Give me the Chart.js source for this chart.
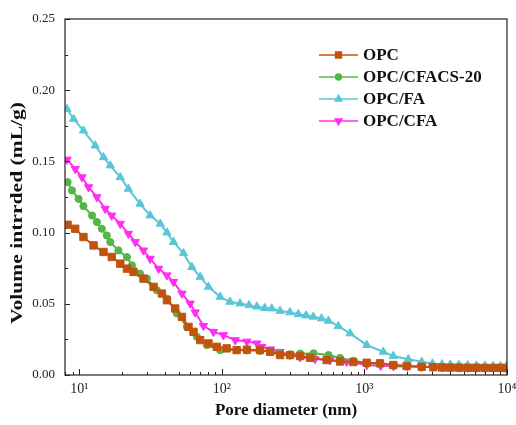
<!doctype html>
<html lang="en">
<head>
<meta charset="utf-8">
<title>Volume intruded vs pore diameter</title>
<script src="https://cdn.jsdelivr.net/npm/chart.js@4"></script>
<style>
  html, body { margin: 0; padding: 0; background: #fff; }
</style>
</head>
<body>
<canvas id="chart1" width="516" height="425"></canvas>
<script>
  // values
  const opcX = [8.28, 9.37, 10.7, 12.6, 14.8, 16.9, 19.4, 21.6, 24.0, 28.2, 33.2, 38.0, 41.2, 47.1, 52.5, 58.4, 63.3, 70.5, 80.6, 92.2, 108, 127, 150, 185, 218, 256, 301, 354, 416, 544, 675, 836, 1038, 1286, 1594, 1978, 2522, 3043, 3500, 4000, 4600, 5300, 6100, 7000, 8000, 9000, 9900]
  const opcY = [0.1055, 0.1027, 0.0969, 0.0910, 0.0864, 0.0829, 0.0782, 0.0747, 0.0724, 0.0677, 0.0619, 0.0572, 0.0525, 0.0467, 0.0408, 0.0338, 0.0303, 0.0245, 0.0222, 0.0198, 0.0187, 0.0175, 0.0178, 0.0175, 0.0163, 0.0140, 0.0140, 0.0133, 0.0121, 0.0105, 0.0095, 0.0091, 0.0086, 0.0082, 0.0070, 0.0063, 0.0058, 0.0055, 0.0053, 0.0052, 0.0052, 0.0051, 0.0051, 0.0050, 0.0050, 0.0050, 0.0049]

  const cfacsX = [8.28, 8.89, 9.89, 10.7, 12.3, 13.3, 14.4, 15.6, 16.5, 18.8, 21.6, 23.4, 26.7, 29.8, 35.0, 41.2, 48.4, 56.9, 66.8, 78.5, 97.3, 127, 150, 185, 220, 256, 300, 354, 440, 560, 675, 836, 1038, 1290, 1600, 2000, 2520, 3050, 3600, 4200, 4900, 5700, 6600, 7600, 8700, 9900]
  const cfacsY = [0.1354, 0.1296, 0.1237, 0.1186, 0.1120, 0.1074, 0.1027, 0.0980, 0.0934, 0.0875, 0.0828, 0.0770, 0.0712, 0.0677, 0.0595, 0.0537, 0.0432, 0.0338, 0.0268, 0.0210, 0.0175, 0.0175, 0.0172, 0.0170, 0.0165, 0.0150, 0.0145, 0.0150, 0.0152, 0.0140, 0.0120, 0.0100, 0.0085, 0.0078, 0.0070, 0.0063, 0.0058, 0.0055, 0.0053, 0.0052, 0.0051, 0.0050, 0.0050, 0.0049, 0.0049, 0.0048]

  const faX = [8.2, 9.12, 10.7, 12.95, 14.8, 16.5, 19.4, 22.1, 26.7, 31.4, 37.0, 41.2, 45.8, 53.8, 61.6, 70.5, 80.6, 97.3, 114, 134, 155, 176, 200, 224, 256, 300, 344, 390, 438, 500, 559, 656, 793, 1038, 1357, 1594, 2032, 2522, 3000, 3500, 4000, 4600, 5300, 6100, 7000, 8000, 9000, 9900]
  const faY = [0.1868, 0.1798, 0.1716, 0.1611, 0.1529, 0.1471, 0.1389, 0.1307, 0.1202, 0.1120, 0.1062, 0.1000, 0.0934, 0.0855, 0.0758, 0.0689, 0.0619, 0.0549, 0.0514, 0.0502, 0.0490, 0.0480, 0.0470, 0.0467, 0.0450, 0.0440, 0.0427, 0.0418, 0.0409, 0.0397, 0.0381, 0.0343, 0.0292, 0.0210, 0.0163, 0.0133, 0.0110, 0.0093, 0.0080, 0.0075, 0.0072, 0.0070, 0.0068, 0.0066, 0.0065, 0.0063, 0.0062, 0.0060]

  const cfaX = [8.2, 9.37, 10.44, 11.62, 13.3, 15.2, 16.9, 19.4, 22.1, 24.7, 28.2, 31.4, 36.0, 41.2, 45.8, 52.5, 60.0, 65.0, 74.3, 87.3, 102.6, 124, 150, 176, 191, 220, 256, 300, 354, 450, 574, 751, 1038, 1300, 1600, 2000, 2500, 3000, 3500, 4000, 4600, 5300, 6100, 7000, 8000, 9000, 9900]
  const cfaY = [0.1513, 0.1447, 0.1389, 0.1319, 0.1249, 0.1167, 0.1120, 0.1062, 0.0992, 0.0934, 0.0875, 0.0817, 0.0747, 0.0700, 0.0654, 0.0572, 0.0502, 0.0440, 0.0345, 0.0303, 0.0280, 0.0245, 0.0235, 0.0222, 0.0198, 0.0180, 0.0163, 0.0140, 0.0125, 0.0112, 0.0105, 0.0093, 0.0070, 0.0065, 0.0062, 0.0060, 0.0058, 0.0056, 0.0055, 0.0054, 0.0053, 0.0052, 0.0051, 0.0050, 0.0050, 0.0049, 0.0048]

  const seriesNames = ['OPC', 'OPC/CFACS-20', 'OPC/FA', 'OPC/CFA']
  const xTickVals = [10, 100, 1000, 10000]
  const xTickLabels = ['10¹', '10²', '10³', '10⁴']
  const yTickVals = [0, 0.05, 0.10, 0.15, 0.20, 0.25]

  const serif = "'Liberation Serif', 'Times New Roman', serif"

  function toPoints(xs, ys) {
    return xs.map((x, i) => ({ x: x, y: ys[i] }))
  }

  function series(label, xs, ys, color, style, radius, rotation) {
    return {
      label: label,
      data: toPoints(xs, ys),
      borderColor: color,
      backgroundColor: color,
      borderWidth: 2,
      pointStyle: style,
      pointRadius: radius,
      pointRotation: rotation || 0,
      pointBorderWidth: 1,
      pointBackgroundColor: color,
      pointBorderColor: color,
      tension: 0
    }
  }

  // frame, inward ticks, legend and rotated y title
  const decorPlugin = {
    id: 'decor',
    afterDraw(chart) {
      const ctx = chart.ctx
      const area = chart.chartArea
      const xs = chart.scales.x
      const ys = chart.scales.y
      ctx.save()
      ctx.strokeStyle = '#222'
      ctx.lineWidth = 1.2
      ctx.strokeRect(area.left, area.top, area.right - area.left, area.bottom - area.top)

      ctx.lineWidth = 1
      ctx.beginPath()
      for (let v = 0; v <= 0.2501; v += 0.025) {
        const py = Math.round(ys.getPixelForValue(v)) + 0.5
        const len = Math.abs(v / 0.05 - Math.round(v / 0.05)) < 1e-6 ? 5 : 3
        ctx.moveTo(area.left, py)
        ctx.lineTo(area.left + len, py)
      }
      for (let d = 1; d <= 10000; d *= 10) {
        for (let k = 1; k <= 9; k++) {
          const v = k * d
          if (v < xs.min || v > xs.max) continue
          const px = Math.round(xs.getPixelForValue(v)) + 0.5
          const len = k === 1 ? 6 : 3
          ctx.moveTo(px, area.bottom)
          ctx.lineTo(px, area.bottom - len)
        }
      }
      ctx.stroke()

      // legend
      const lx0 = 319, lx1 = 358, tx = 363
      chart.data.datasets.forEach((ds, i) => {
        const y = 55 + i * 22
        ctx.strokeStyle = ds.borderColor
        ctx.fillStyle = ds.borderColor
        ctx.lineWidth = 1.5
        ctx.beginPath()
        ctx.moveTo(lx0, y)
        ctx.lineTo(lx1, y)
        ctx.stroke()
        Chart.helpers.drawPoint(ctx, {
          pointStyle: ds.pointStyle,
          radius: ds.pointRadius * 0.8,
          rotation: ds.pointRotation,
          borderWidth: 1
        }, (lx0 + lx1) / 2, y)
        ctx.fillStyle = '#111'
        ctx.font = 'bold 17px ' + serif
        ctx.textAlign = 'left'
        ctx.textBaseline = 'middle'
        ctx.fillText(ds.label, tx, y + 1)
      })

      // y title
      const title = 'Volume intrrded (mL/g)'
      ctx.translate(18, 213)
      ctx.rotate(-Math.PI / 2)
      ctx.font = 'bold 16px ' + serif
      const w = ctx.measureText(title).width
      ctx.scale(222 / w, 1)
      ctx.fillStyle = '#111'
      ctx.textAlign = 'center'
      ctx.textBaseline = 'middle'
      ctx.fillText(title, 0, 0)
      ctx.restore()
    }
  }

  new Chart(document.getElementById('chart1'), {
    type: 'line',
    data: {
      datasets: [
        series(seriesNames[0], opcX, opcY, '#C0530E', 'rect', 5.2),
        series(seriesNames[1], cfacsX, cfacsY, '#52B748', 'circle', 3.6),
        series(seriesNames[2], faX, faY, '#5BC6D6', 'triangle', 4.8),
        series(seriesNames[3], cfaX, cfaY, '#FF2EF0', 'triangle', 4.8, 180)
      ]
    },
    options: {
      responsive: false,
      animation: false,
      events: [],
      layout: { padding: { top: 19, right: 9, left: 0, bottom: 0 } },
      scales: {
        x: {
          type: 'logarithmic',
          min: Math.pow(10, 0.9),
          max: 10000,
          grid: { display: false, drawTicks: false, tickLength: 0 },
          border: { display: false },
          afterBuildTicks: scale => {
            scale.ticks = xTickVals.map(v => ({ value: v }))
          },
          afterFit: scale => {
            scale.height = 50
            scale.paddingLeft = 0
            scale.paddingRight = 0
          },
          ticks: {
            autoSkip: false,
            maxRotation: 0,
            padding: 6,
            color: '#222',
            font: { family: serif, size: 14 },
            callback: (value, index) => xTickLabels[index]
          },
          title: {
            display: true,
            text: 'Pore diameter (nm)',
            color: '#111',
            font: { family: serif, size: 17, weight: 'bold' },
            padding: { top: 0, bottom: 4 }
          }
        },
        y: {
          min: 0,
          max: 0.25,
          grid: { display: false, drawTicks: false, tickLength: 0 },
          border: { display: false },
          afterBuildTicks: scale => {
            scale.ticks = yTickVals.map(v => ({ value: v }))
          },
          afterFit: scale => {
            scale.width = 65
          },
          ticks: {
            padding: 10,
            color: '#222',
            font: { family: serif, size: 13 },
            callback: value => value.toFixed(2)
          }
        }
      },
      plugins: {
        legend: { display: false },
        tooltip: { enabled: false }
      }
    },
    plugins: [decorPlugin]
  })
</script>
</body>
</html>
